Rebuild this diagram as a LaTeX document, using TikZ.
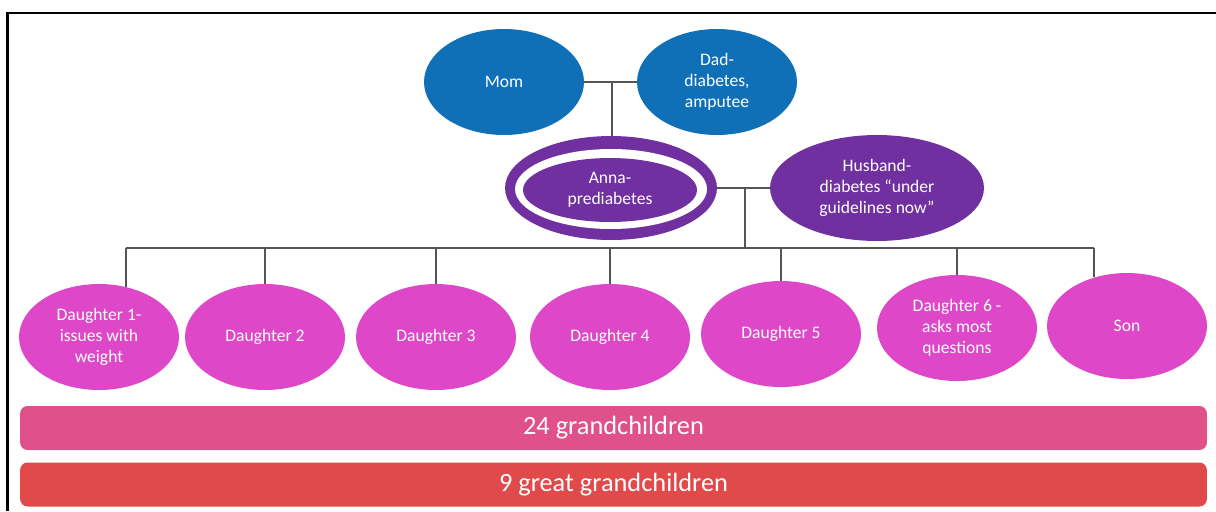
\documentclass[tikz,border=0pt]{standalone}
\usepackage{fontspec}
\setmainfont{Carlito}
\usetikzlibrary{shapes.geometric,positioning,calc}
\definecolor{sea}{HTML}{0F6FB7}
\definecolor{plum}{HTML}{7030A0}
\definecolor{pinky}{HTML}{DE47C8}
\definecolor{rose}{HTML}{E0508A}
\definecolor{brick}{HTML}{E04A4A}
\definecolor{wire}{HTML}{555555}
\tikzset{oval/.style={ellipse,inner sep=0pt,align=center,text=white,font=\fontsize{10}{12}\selectfont,minimum width=3.2cm,minimum height=2.12cm},link/.style={draw=wire,line width=1.1pt},bar/.style={rounded corners=1.5mm,minimum width=23.74cm,minimum height=.88cm,text=white,font=\fontsize{15}{18}\selectfont}}

\begin{document}
\begin{tikzpicture}[x=.02cm,y=-.02cm]
\useasboundingbox (0,0) rectangle (1216,511);
\draw[line width=1.7pt] (7.5,511) -- (7.5,13) -- (1216,13);
% parents
\node[oval,fill=sea](mom) at (504,82){Mom};
\node[oval,fill=sea](dad) at (717,82){Dad-\\diabetes,\\amputee};
% Anna with ring
\node[ellipse,fill=plum,inner sep=0pt,minimum width=4.24cm,minimum height=2.08cm](ring) at (611,188){};
\node[ellipse,fill=white,inner sep=0pt,minimum width=3.84cm,minimum height=1.6cm](gap) at (611,189){};
\node[oval,fill=plum,minimum width=3.48cm,minimum height=1.28cm](anna) at (610,190){Anna-\\prediabetes};
\node[oval,fill=plum,minimum width=4.28cm](hub) at (877,188){Husband-\\diabetes “under\\guidelines now”};
% children
\foreach \n/\x/\y/\t in {d1/99/337/{Daughter 1-\\issues with\\weight},d2/265/337/{Daughter 2},d3/436/337/{Daughter 3},d4/610/337/{Daughter 4},d5/781/334/{Daughter 5},d6/957/328/{Daughter 6 -\\asks most\\questions},son/1127/326/{Son}}{\node[oval,fill=pinky](\n) at (\x,\y){\t};}
% connectors
\coordinate (bus) at (0,248);
\coordinate (m) at ($(mom.east)!.52!(dad.west)$);
\coordinate (j) at ($(ring.east)!.53!(hub.west)$);
\draw[link] (mom.east) -- (dad.west);
\draw[link] (m) -- (m |- ring.north);
\draw[link] (ring.east) -- (hub.west);
\draw[link] (j) -- (j |- bus);
\draw[link] (d1.62 |- bus) -- (son.124 |- bus);
\foreach \n/\a in {d1/62,d2/90,d3/90,d4/90,d5/90,d6/90,son/124}{\draw[link] (\n.\a) -- (\n.\a |- bus);}
% bars
\node[bar,fill=rose](gc) at (613.5,428){\raisebox{-2pt}{24 grandchildren}};
\node[bar,fill=brick](ggc) at (613.5,484.5){\raisebox{-2pt}{9 great grandchildren}};
\end{tikzpicture}
\end{document}
